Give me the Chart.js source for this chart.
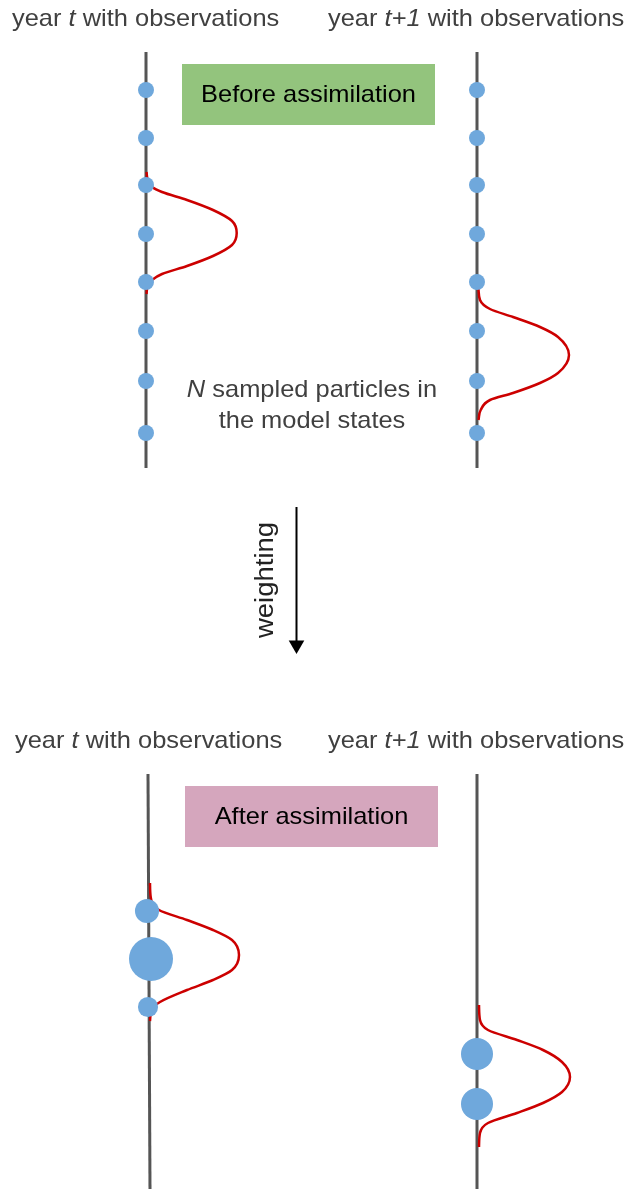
<!DOCTYPE html>
<html>
<head>
<meta charset="utf-8">
<script src="https://cdn.jsdelivr.net/npm/chart.js@4"></script>
<style>
  body { margin: 0; background: #ffffff; }
  #wrap { position: relative; width: 630px; height: 1189px; }
</style>
</head>
<body>
<div id="wrap"><canvas id="chart"></canvas></div>
<script>
// timelines (model state axis for each year)
const timelineTopT = [{ x: 146, y: 52 }, { x: 146, y: 468 }];
const timelineTopT1 = [{ x: 477, y: 52 }, { x: 477, y: 468 }];
const timelineBotT = [{ x: 148, y: 774 }, { x: 150, y: 1189 }];
const timelineBotT1 = [{ x: 477, y: 774 }, { x: 477, y: 1189 }];

// N sampled particles before assimilation (same states in both years)
const particleStates = [90, 138, 185, 234, 282, 331, 381, 433];

// particles kept after weighting, with their weights
const keptStatesT = [911, 959, 1007];
const keptXT = [147, 151, 148];
const keptWeightsT = [0.30, 1.0, 0.21];
const keptStatesT1 = [1054, 1104];
const keptWeightsT1 = [0.53, 0.53];

const obsTopT_x = [146.5, 148, 152, 162, 187, 213, 232, 236.7, 232, 213, 187, 162, 152, 148, 146.5];
const obsTopT_y = [172, 181, 187, 192, 200, 210, 221, 233, 245, 256, 266, 274, 280, 285, 294];
const obsTopT1_x = [478.5, 480, 490, 513, 540, 558, 569, 558, 540, 513, 490, 480.7, 478.5];
const obsTopT1_y = [289, 300, 309, 317, 327, 337, 355, 373, 383, 393, 400, 410, 420];
const obsBotT_x = [150, 150.7, 159, 187, 213, 232, 239, 232, 213, 187, 160, 151.7, 150];
const obsBotT_y = [883, 897, 910, 920, 930, 940, 955, 970, 980, 990, 1002, 1010, 1021];
const obsBotT1_x = [479, 480, 488, 517, 543, 562, 570, 562, 543, 517, 488, 480, 479];
const obsBotT1_y = [1005, 1020, 1030, 1040, 1050, 1062, 1077, 1092, 1103, 1113, 1123, 1133, 1147];

// weighting arrow
const arrowLine = [{ x: 296.5, y: 507 }, { x: 296.5, y: 645 }];
const arrowHead = [{ x: 296.5, y: 645 }];

const FONT = '"Liberation Sans", Arial, sans-serif';
const GREY = "#555555";
const RED = "#cc0000";
const BLUE = "#6fa8dc";
const STRETCH = 1.06; // text in the picture is a bit wider than plain Arial

function zip(xs, ys) {
    return xs.map((x, i) => ({ x: x, y: ys[i] }));
}

function lineSet(data, color, width, order) {
    return {
        type: "line",
        data: data,
        borderColor: color,
        borderWidth: width,
        pointRadius: 0,
        fill: false,
        tension: 0,
        clip: false,
        order: order,
    };
}

function curveSet(data) {
    return {
        type: "line",
        data: data,
        indexAxis: "y",
        borderColor: RED,
        borderWidth: 2.5,
        pointRadius: 0,
        fill: false,
        cubicInterpolationMode: "monotone",
        clip: false,
        order: 2,
    };
}

function dotSet(data, radii) {
    return {
        type: "scatter",
        data: data,
        backgroundColor: BLUE,
        borderWidth: 0,
        pointRadius: radii,
        pointHoverRadius: radii,
        clip: false,
        order: 1,
    };
}

// bigger weight -> bigger particle (area proportional to weight)
const radiusOf = (w) => 22 * Math.sqrt(w);

// boxes and text drawn on top of the chart area
const boxes = [
    { x0: 182, x1: 435, y0: 64, y1: 125, color: "#93c47d", text: "Before assimilation" },
    { x0: 185, x1: 438, y0: 786, y1: 847, color: "#d5a6bd", text: "After assimilation" },
];

const labels = [
    { x: 12, y: 26, parts: [["year ", 0], ["t", 1], [" with observations", 0]] },
    { x: 328, y: 26, parts: [["year ", 0], ["t+1", 1], [" with observations", 0]] },
    { x: 15, y: 748, parts: [["year ", 0], ["t", 1], [" with observations", 0]] },
    { x: 328, y: 748, parts: [["year ", 0], ["t+1", 1], [" with observations", 0]] },
];

function drawParts(c, parts, x, y, size, center, stretch) {
    let total = 0;
    parts.forEach((p) => {
        c.font = (p[1] ? "italic " : "") + size + "px " + FONT;
        total += c.measureText(p[0]).width;
    });
    c.save();
    c.translate(x, y);
    c.scale(stretch, 1);
    let cx = center ? -total / 2 : 0;
    parts.forEach((p) => {
        c.font = (p[1] ? "italic " : "") + size + "px " + FONT;
        c.fillText(p[0], cx, 0);
        cx += c.measureText(p[0]).width;
    });
    c.restore();
}

const decorPlugin = {
    id: "decor",
    beforeDatasetsDraw(chart) {
        const c = chart.ctx;
        const xs = chart.scales.x;
        const ys = chart.scales.y;
        c.save();
        boxes.forEach((b) => {
            const px0 = xs.getPixelForValue(b.x0);
            const px1 = xs.getPixelForValue(b.x1);
            const py0 = ys.getPixelForValue(b.y0);
            const py1 = ys.getPixelForValue(b.y1);
            c.fillStyle = b.color;
            c.fillRect(px0, py0, px1 - px0, py1 - py0);
            c.fillStyle = "#000000";
            c.textBaseline = "middle";
            c.textAlign = "left";
            drawParts(c, [[b.text, 0]], (px0 + px1) / 2, (py0 + py1) / 2 + 1, 24, true, STRETCH);
        });
        c.restore();
    },
    afterDatasetsDraw(chart) {
        const c = chart.ctx;
        const xs = chart.scales.x;
        const ys = chart.scales.y;
        c.save();
        c.fillStyle = "#404040";
        c.textBaseline = "alphabetic";
        c.textAlign = "left";
        labels.forEach((l) => {
            drawParts(c, l.parts, xs.getPixelForValue(l.x), ys.getPixelForValue(l.y), 24, false, STRETCH);
        });
        // middle note
        drawParts(c, [["N", 1], [" sampled particles in", 0]], xs.getPixelForValue(312), ys.getPixelForValue(397), 24, true, STRETCH);
        drawParts(c, [["the model states", 0]], xs.getPixelForValue(312), ys.getPixelForValue(428), 24, true, STRETCH);
        // arrow label
        c.translate(xs.getPixelForValue(266), ys.getPixelForValue(580));
        c.rotate(-Math.PI / 2);
        c.fillStyle = "#222222";
        c.textBaseline = "middle";
        drawParts(c, [["weighting", 0]], 0, 0, 25, true, 1.1);
        c.restore();
    },
};

const ctx = document.getElementById("chart");

const chart = new Chart(ctx, {
    type: "scatter",
    data: {
        datasets: [
            lineSet(timelineTopT, GREY, 3, 3),
            lineSet(timelineTopT1, GREY, 3, 3),
            lineSet(timelineBotT, GREY, 3, 3),
            lineSet(timelineBotT1, GREY, 3, 3),
            curveSet(zip(obsTopT_x, obsTopT_y)),
            curveSet(zip(obsTopT1_x, obsTopT1_y)),
            curveSet(zip(obsBotT_x, obsBotT_y)),
            curveSet(zip(obsBotT1_x, obsBotT1_y)),
            dotSet(particleStates.map((s) => ({ x: 146, y: s })), 8),
            dotSet(particleStates.map((s) => ({ x: 477, y: s })), 8),
            dotSet(keptStatesT.map((s, i) => ({ x: keptXT[i], y: s })), keptWeightsT.map(radiusOf)),
            dotSet(keptStatesT1.map((s) => ({ x: 477, y: s })), keptWeightsT1.map(radiusOf)),
            lineSet(arrowLine, "#000000", 2, 1),
            {
                type: "scatter",
                data: arrowHead,
                pointStyle: "triangle",
                rotation: 180,
                pointRadius: 9,
                backgroundColor: "#000000",
                borderWidth: 0,
                clip: false,
                order: 0,
            },
        ],
    },
    options: {
        responsive: true,
        maintainAspectRatio: false,
        animation: false,
        layout: { padding: 0, autoPadding: false },
        plugins: {
            legend: { display: false },
            tooltip: { enabled: false },
        },
        events: [],
        scales: {
            x: { type: "linear", min: 0, max: 630, display: false },
            y: { type: "linear", min: 0, max: 1189, reverse: true, display: false },
        },
    },
    plugins: [decorPlugin],
});
</script>
</body>
</html>
